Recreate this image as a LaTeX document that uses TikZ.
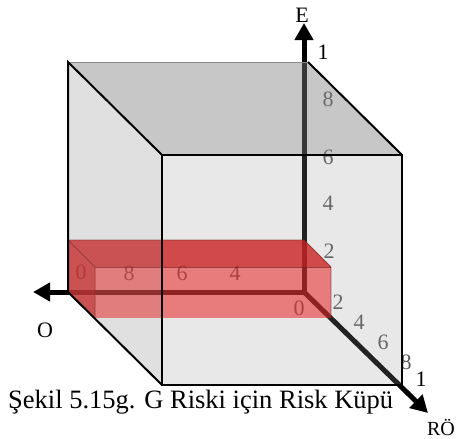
\documentclass[tikz,border=0pt]{standalone}
\usepackage{fontspec}
\setmainfont{Liberation Serif}
\usetikzlibrary{arrows.meta}
\begin{document}
\begin{tikzpicture}[x=1pt,y=-1pt,
  axisline/.style={line width=5pt,-{Triangle[length=17pt,width=18pt]}},
  lbl/.style={font=\fontsize{22}{24}\selectfont, inner sep=0pt},
  inlbl/.style={font=\fontsize{22}{24}\selectfont, inner sep=0pt, text=black!65},
  smalllbl/.style={font=\fontsize{20}{22}\selectfont, inner sep=0pt},
  cubeedge/.style={line width=2pt, black},
  redfacedark/.style={fill=red!85!black, fill opacity=0.8},
  redfacelight/.style={fill=red, fill opacity=0.55},
  rededge/.style={draw=red!45!black, line width=0.9pt, draw opacity=0.7}]
\useasboundingbox (0,0) rectangle (458,439);
% cube corners
\coordinate (B1) at (68,62);
\coordinate (B2) at (308,62);
\coordinate (F1) at (162,155);
\coordinate (F2) at (402,155);
\coordinate (F3) at (402,385);
\coordinate (F4) at (162,385);
\coordinate (B4) at (68,292);
\coordinate (Org) at (304,292);
\coordinate (Etip) at (304,23);
\coordinate (Otip) at (33,292);
\coordinate (Rtip) at (428,413);
% axes
\draw[axisline] (Org) -- (Etip);
\draw[axisline] (Org) -- (Otip);
\draw[axisline] (Org) -- (Rtip);
% labels seen through the cube
\node[inlbl] (e8) at (328,99) {8};
\node[inlbl] (e6) at (328,157) {6};
\node[inlbl] (e4) at (328,203) {4};
\node[inlbl] (e2) at (329,251) {2};
\node[inlbl] (r0) at (299,308) {0};
\node[inlbl] (r2) at (338,302) {2};
\node[inlbl] (r4) at (359,322) {4};
\node[inlbl] (r6) at (383,342) {6};
\node[inlbl] (r8) at (406,362) {8};
\node[inlbl] (o0) at (81,272) {0};
\node[inlbl] (o8) at (129,273) {8};
\node[inlbl] (o6) at (182,273) {6};
\node[inlbl] (o4) at (235,273) {4};
% red box
\coordinate (RB1) at (68,240);
\coordinate (RB2) at (304,240);
\coordinate (RB3) at (304,292);
\coordinate (RB4) at (68,292);
\coordinate (RF1) at (95,267);
\coordinate (RF2) at (331,267);
\coordinate (RF3) at (331,318);
\coordinate (RF4) at (95,318);
\fill[redfacedark] (RB1) -- (RB2) -- (RF2) -- (RF1) -- cycle;
\fill[redfacedark] (RB1) -- (RF1) -- (RF4) -- (RB4) -- cycle;
\fill[redfacelight] (RF1) -- (RF2) -- (RF3) -- (RF4) -- cycle;
\draw[rededge] (RB4) -- (RB1) -- (RB2) -- (RF2) -- (RF3);
\draw[rededge] (RB1) -- (RF1) -- (RF4);
\draw[rededge] (RF1) -- (RF2);
% translucent cube faces
\fill[black!50, fill opacity=0.44] (B1) -- (B2) -- (F2) -- (F1) -- cycle;
\fill[black!40, fill opacity=0.3] (B1) -- (F1) -- (F4) -- (B4) -- cycle;
\fill[black!40, fill opacity=0.225] (F1) -- (F2) -- (F3) -- (F4) -- cycle;
% cube edges
\draw[black!45, line width=0.8pt] (B1) -- (B2);
\draw[cubeedge] (B4) -- (B1) -- (F1);
\draw[cubeedge] (B2) -- (F2);
\draw[cubeedge] (B4) -- (F4);
\draw[cubeedge] (F1) -- (F2) -- (F3) -- (F4) -- cycle;
% outer labels
\node[lbl] (E) at (302,15) {E};
\node[lbl] (e1) at (323,52) {1};
\node[lbl] (r1) at (421,379) {1};
\node[smalllbl] (RO) at (441,427) {RÖ};
\node[lbl] (O) at (45,330) {O};
\node[anchor=base west, inner sep=0pt, font=\fontsize{26.5}{30}\selectfont] (cap) at (8,408) {Şekil 5.15g. G Riski için Risk Küpü};
\end{tikzpicture}
\end{document}
